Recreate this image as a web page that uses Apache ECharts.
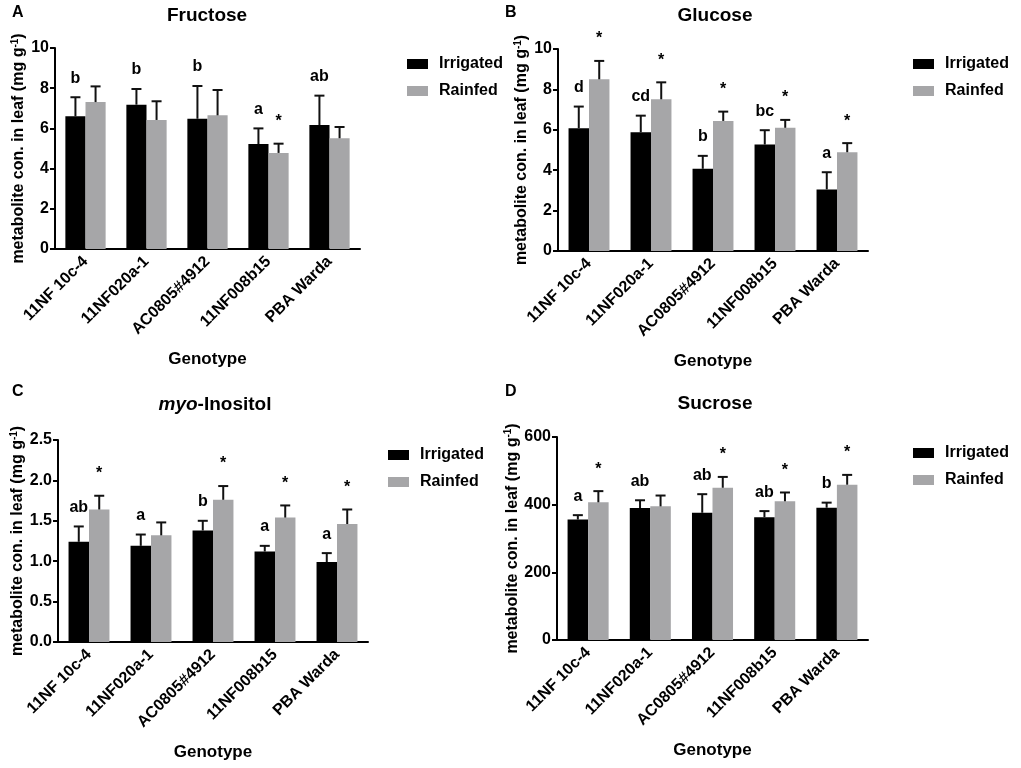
<!DOCTYPE html>
<html>
<head>
<meta charset="utf-8">
<script src="https://cdn.jsdelivr.net/npm/echarts@6/dist/echarts.min.js"></script>
<style>html,body{margin:0;padding:0;background:#fff}#c{width:1021px;height:768px}</style>
</head>
<body>
<div id="c"></div>
<script>
const genotypes = ['11NF 10c-4', '11NF020a-1', 'AC0805#4912', '11NF008b15', 'PBA Warda'];
const seriesNames = ['Irrigated', 'Rainfed'];

// Fructose
const fructoseIrrigated = [6.60, 7.18, 6.48, 5.22, 6.17];
const fructoseIrrigatedSE = [0.95, 0.78, 1.63, 0.78, 1.46];
const fructoseRainfed = [7.31, 6.42, 6.65, 4.78, 5.51];
const fructoseRainfedSE = [0.78, 0.93, 1.26, 0.46, 0.56];
const fructoseIrrigatedLetters = ['b', 'b', 'b', 'a', 'ab'];
const fructoseRainfedLetters = ['', '', '', '*', ''];

// Glucose
const glucoseIrrigated = [6.08, 5.88, 4.07, 5.27, 3.05];
const glucoseIrrigatedSE = [1.07, 0.82, 0.64, 0.71, 0.85];
const glucoseRainfed = [8.50, 7.51, 6.44, 6.10, 4.89];
const glucoseRainfedSE = [0.91, 0.84, 0.46, 0.39, 0.45];
const glucoseIrrigatedLetters = ['d', 'cd', 'b', 'bc', 'a'];
const glucoseRainfedLetters = ['*', '*', '*', '*', '*'];

// myo-Inositol
const inositolIrrigated = [1.24, 1.19, 1.38, 1.12, 0.99];
const inositolIrrigatedSE = [0.19, 0.14, 0.12, 0.07, 0.11];
const inositolRainfed = [1.64, 1.32, 1.76, 1.54, 1.46];
const inositolRainfedSE = [0.17, 0.16, 0.17, 0.15, 0.18];
const inositolIrrigatedLetters = ['ab', 'a', 'b', 'a', 'a'];
const inositolRainfedLetters = ['*', '', '*', '*', '*'];

// Sucrose
const sucroseIrrigated = [356, 390, 376, 363, 391];
const sucroseIrrigatedSE = [13, 23, 55, 18, 15];
const sucroseRainfed = [407, 395, 450, 410, 459];
const sucroseRainfedSE = [33, 32, 32, 26, 29];
const sucroseIrrigatedLetters = ['a', 'ab', 'ab', 'ab', 'b'];
const sucroseRainfedLetters = ['*', '', '*', '*', '*'];

// Axis ticks
const yTicksFructose = { min: 0, max: 10, interval: 2 };
const yTicksGlucose = { min: 0, max: 10, interval: 2 };
const yTicksInositol = { min: 0, max: 2.5, interval: 0.5 };
const yTicksSucrose = { min: 0, max: 600, interval: 200 };

const FONT = '"Liberation Sans", Arial, sans-serif';
const BLACK = '#000000';
const GREY = '#a6a6a8';
const GAP_FRAC = 0.34;

const panels = [
  { label: 'A', title: 'Fructose', irr: fructoseIrrigated, irrSE: fructoseIrrigatedSE, rain: fructoseRainfed, rainSE: fructoseRainfedSE,
    irrL: fructoseIrrigatedLetters, rainL: fructoseRainfedLetters, ticks: yTicksFructose, dec: 0,
    grid: { left: 55, top: 48, width: 305, height: 201 }, legendPos: { left: 407, top: 56 }, labelPos: [12, 13], titlePos: [207, 16] },
  { label: 'B', title: 'Glucose', irr: glucoseIrrigated, irrSE: glucoseIrrigatedSE, rain: glucoseRainfed, rainSE: glucoseRainfedSE,
    irrL: glucoseIrrigatedLetters, rainL: glucoseRainfedLetters, ticks: yTicksGlucose, dec: 0,
    grid: { left: 558, top: 49, width: 310, height: 202 }, legendPos: { left: 913, top: 56 }, labelPos: [505, 13], titlePos: [715, 16] },
  { label: 'C', title: '{i|myo}-Inositol', irr: inositolIrrigated, irrSE: inositolIrrigatedSE, rain: inositolRainfed, rainSE: inositolRainfedSE,
    irrL: inositolIrrigatedLetters, rainL: inositolRainfedLetters, ticks: yTicksInositol, dec: 1,
    grid: { left: 58, top: 440, width: 310, height: 202 }, legendPos: { left: 388, top: 447 }, labelPos: [12, 392], titlePos: [215, 405] },
  { label: 'D', title: 'Sucrose', irr: sucroseIrrigated, irrSE: sucroseIrrigatedSE, rain: sucroseRainfed, rainSE: sucroseRainfedSE,
    irrL: sucroseIrrigatedLetters, rainL: sucroseRainfedLetters, ticks: yTicksSucrose, dec: 0,
    grid: { left: 557, top: 437, width: 311, height: 203 }, legendPos: { left: 913, top: 445 }, labelPos: [505, 392], titlePos: [715, 404] }
];

function errRenderer(side, letters) {
  return function (params, api) {
    const ci = api.value(0);
    const mean = api.value(1);
    const se = api.value(2);
    const band = api.size([1, 0])[0];
    const bw = band * (1 - GAP_FRAC) / 2;
    const cx = api.coord([ci, 0])[0] + side * bw / 2;
    const yMean = api.coord([ci, mean])[1];
    const yTop = api.coord([ci, mean + se])[1];
    const letter = letters[params.dataIndex];
    const children = [
      { type: 'line', shape: { x1: cx, y1: yMean, x2: cx, y2: yTop }, style: { stroke: '#111', lineWidth: 2 } },
      { type: 'line', shape: { x1: cx - 5, y1: yTop, x2: cx + 5, y2: yTop }, style: { stroke: '#111', lineWidth: 2 } }
    ];
    if (letter) {
      const off = letter === '*' ? 14 : 11;
      children.push({ type: 'text', x: cx, y: yTop - off,
        style: { text: letter, align: 'center', verticalAlign: 'bottom', fill: '#000',
                 fontFamily: FONT, fontWeight: 'bold', fontSize: 16 } });
    }
    return { type: 'group', children: children };
  };
}

const grids = [], xAxes = [], yAxes = [], series = [], legends = [], graphics = [];
panels.forEach(function (p, k) {
  grids.push(Object.assign({ containLabel: false }, p.grid));
  xAxes.push({
    type: 'category', gridIndex: k, data: genotypes,
    name: 'Genotype', nameLocation: 'middle', nameGap: 102,
    nameTextStyle: { fontFamily: FONT, fontWeight: 'bold', fontSize: 17, color: '#000' },
    axisLine: { lineStyle: { color: '#000', width: 2 } },
    axisTick: { alignWithLabel: true, length: 6, lineStyle: { color: '#000', width: 2 } },
    axisLabel: { rotate: 45, interval: 0, margin: 10, fontFamily: FONT, fontWeight: 'bold', fontSize: 16, color: '#000' },
    splitLine: { show: false }
  });
  yAxes.push({
    type: 'value', gridIndex: k, min: p.ticks.min, max: p.ticks.max, interval: p.ticks.interval,
    name: 'metabolite con. in leaf (mg g{sup|-1})', nameLocation: 'middle', nameGap: 27,
    nameTextStyle: { fontFamily: FONT, fontWeight: 'bold', fontSize: 16, color: '#000',
      rich: { sup: { fontFamily: FONT, fontWeight: 'bold', fontSize: 10, color: '#000', verticalAlign: 'top', padding: [0, 0, 8, 0] } } },
    axisLine: { show: true, lineStyle: { color: '#000', width: 2 } },
    axisTick: { show: true, length: 5, lineStyle: { color: '#000', width: 2 } },
    axisLabel: { margin: 6, fontFamily: FONT, fontWeight: 'bold', fontSize: 16, color: '#000',
      formatter: function (v) { return v.toFixed(p.dec); } },
    splitLine: { show: false }
  });
  series.push({ name: seriesNames[0], type: 'bar', xAxisIndex: k, yAxisIndex: k, data: p.irr,
    itemStyle: { color: BLACK }, barGap: '0%', barCategoryGap: (GAP_FRAC * 100) + '%', z: 2 });
  series.push({ name: seriesNames[1], type: 'bar', xAxisIndex: k, yAxisIndex: k, data: p.rain,
    itemStyle: { color: GREY }, barGap: '0%', barCategoryGap: (GAP_FRAC * 100) + '%', z: 2 });
  series.push({ type: 'custom', xAxisIndex: k, yAxisIndex: k, z: 3, silent: true,
    data: genotypes.map(function (g, i) { return [i, p.irr[i], p.irrSE[i]]; }),
    encode: { x: 0, y: 1 }, renderItem: errRenderer(-1, p.irrL) });
  series.push({ type: 'custom', xAxisIndex: k, yAxisIndex: k, z: 3, silent: true,
    data: genotypes.map(function (g, i) { return [i, p.rain[i], p.rainSE[i]]; }),
    encode: { x: 0, y: 1 }, renderItem: errRenderer(1, p.rainL) });
  legends.push({
    data: seriesNames, orient: 'vertical', left: p.legendPos.left, top: p.legendPos.top, padding: 0,
    icon: 'rect', itemWidth: 21, itemHeight: 10, itemGap: 11,
    textStyle: { fontFamily: FONT, fontWeight: 'bold', fontSize: 16, color: '#000', padding: [0, 0, 0, 6] },
    selectedMode: false
  });
  graphics.push({ type: 'text', x: p.labelPos[0], y: p.labelPos[1],
    style: { text: p.label, fill: '#000', fontFamily: FONT, fontWeight: 'bold', fontSize: 16, align: 'left', verticalAlign: 'middle' } });
  graphics.push({ type: 'text', x: p.titlePos[0], y: p.titlePos[1],
    style: { text: p.title, fill: '#000', fontFamily: FONT, fontWeight: 'bold', fontSize: 19, align: 'center', verticalAlign: 'middle',
      rich: { i: { fontFamily: FONT, fontWeight: 'bold', fontStyle: 'italic', fontSize: 19, fill: '#000' } } } });
});

const chart = echarts.init(document.getElementById('c'), null, { renderer: 'canvas' });
chart.setOption({
  backgroundColor: '#ffffff',
  animation: false,
  grid: grids, xAxis: xAxes, yAxis: yAxes, series: series, legend: legends, graphic: graphics
});
</script>
</body>
</html>
